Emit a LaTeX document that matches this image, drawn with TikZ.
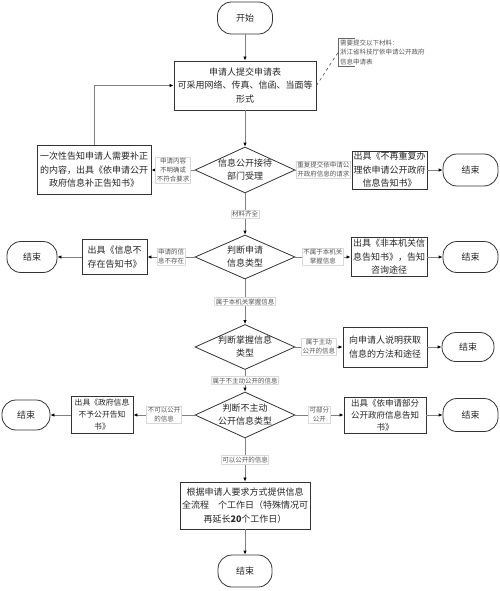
\documentclass[tikz,border=0pt]{standalone}
\usepackage{fontspec}
\setmainfont{Noto Sans CJK SC}
\usetikzlibrary{shapes.geometric,arrows.meta}
\definecolor{linec}{HTML}{808080}
\definecolor{boxc}{HTML}{333333}
\definecolor{lblc}{HTML}{555555}
\tikzset{
  box/.style={draw=boxc, line width=0.9pt, fill=white, inner sep=0pt, align=center, font=\fontsize{9}{13.5}\selectfont, text=black!85},
  term/.style={draw=boxc, line width=0.8pt, rounded corners=14pt, inner sep=0pt, minimum width=55pt, minimum height=32pt, font=\fontsize{9}{11}\selectfont, text=black!85},
  dia/.style={draw=boxc, line width=0.8pt, diamond, inner sep=0pt, minimum width=100pt, minimum height=46pt},
  dtxt/.style={align=center, inner sep=0pt, font=\fontsize{9}{13}\selectfont, text=black!85},
  lbl/.style={draw=black!15, fill=white, inner sep=1pt, align=center, font=\fontsize{6.5}{9}\selectfont, text=lblc},
  notet/.style={align=left, inner xsep=2pt, inner ysep=1.5pt, font=\fontsize{6.5}{9.5}\selectfont, text=lblc},
  conn/.style={draw=linec, line width=0.9pt, -{Latex[length=4pt,width=3.5pt,color=black]}},
}
\begin{document}
\begin{tikzpicture}[x=1pt,y=-1pt]
\useasboundingbox (0,0) rectangle (500,591);

% nodes
\node[term] (start) at (245,18) {开始};
\node[box, minimum width=142pt, minimum height=49pt] (main) at (245,85.5) {申请人提交申请表\\可采用网络、传真、信函、当面等\\形式};
\node[notet, anchor=west] (note) at (338,52.5) {需要提交以下材料：\\浙江省科技厅依申请公开政府\\信息申请表};

\node[dia] (d1) at (245,170) {};
\node[dtxt] (d1t) at (d1) {信息公开接待\\部门受理};
\node[box, minimum width=114pt, minimum height=49pt] (b1) at (94,170) {一次性告知申请人需要补正\\的内容，出具《依申请公开\\政府信息补正告知书》};
\node[box, minimum width=75pt, minimum height=38pt] (r1) at (389.5,170) {出具《不再重复办\\理依申请公开政府\\信息告知书》};
\node[term] (e1) at (470.5,170) {结束};

\node[dia, minimum height=44pt] (d2) at (245,257) {};
\node[dtxt] (d2t) at (d2) {判断申请\\信息类型};
\node[box, minimum width=65pt, minimum height=35pt] (l2) at (114.5,257) {出具《信息不\\存在告知书》};
\node[term, minimum width=50pt, minimum height=31pt] (le2) at (32,257) {结束};
\node[box, minimum width=76pt, minimum height=39pt] (r2) at (389,257) {出具《非本机关信\\息告知书》，告知\\咨询途径};
\node[term, minimum height=31pt] (e2) at (470.5,257) {结束};

\node[dia, minimum height=45pt] (d3) at (245,347) {};
\node[dtxt] (d3t) at (d3) {判断掌握信息\\类型};
\node[box, minimum width=84pt, minimum height=40pt] (r3) at (385,347) {向申请人说明获取\\信息的方法和途径};
\node[term, minimum width=52pt, minimum height=29pt] (e3) at (468,347) {结束};

\node[dia] (d4) at (245,415) {};
\node[dtxt] (d4t) at (d4) {判断不主动\\公开信息类型};
\node[box, minimum width=62pt, minimum height=37pt, font=\fontsize{7.8}{12}\selectfont] (l4) at (102,415) {出具《政府信息\\不予公开告知\\书》};
\node[term, minimum width=48pt, minimum height=30pt] (le4) at (26,415) {结束};
\node[box, minimum width=82pt, minimum height=36pt, font=\fontsize{8.5}{12}\selectfont] (r4) at (385,415) {出具《依申请部分\\公开政府信息告知\\书》};
\node[term, minimum height=33pt] (e4) at (470.5,415) {结束};

\node[box, minimum width=130pt, minimum height=47pt] (fin) at (245,505.5) {根据申请人要求方式提供信息\\全流程\hspace{9pt}个工作日（特殊情况可\\再延长\textbf{20}个工作日）};
\node[term, minimum width=54pt] (end) at (245,571) {结束};

% connectors
\draw[conn] (start.south) -- (main.north);
\draw[conn] (main.south) -- (d1.north);
\draw[conn] (b1.north) |- (main.west);
\draw[draw=black!70, dashed, line width=0.6pt] (main.east) -- (note.west);
\draw[draw=black!60, line width=0.6pt] ([xshift=17pt]note.north west) -- (note.north west) -- (note.south west) -- ([xshift=17pt]note.south west);

\draw[conn] (d1.west) -- node[lbl] (c1) {申请内容\\不明确或\\不符合要求} (b1.east);
\draw[conn] (d1.east) -- node[lbl] (c2) {重复提交依申请公\\开政府信息的请求} (r1.west);
\draw[conn] (r1.east) -- (e1.west);
\draw[conn] (d1.south) -- node[lbl] (c3) {材料齐全} (d2.north);

\draw[conn] (d2.west) -- node[lbl] (c4) {申请的信\\息不存在} (l2.east);
\draw[conn] (l2.west) -- (le2.east);
\draw[conn] (d2.east) -- node[lbl] (c5) {不属于本机关\\掌握信息} (r2.west);
\draw[conn] (r2.east) -- (e2.west);
\draw[conn] (d2.south) -- node[lbl] (c6) {属于本机关掌握信息} (d3.north);

\draw[conn] (d3.east) -- node[lbl] (c7) {属于主动\\公开的信息} (r3.west);
\draw[conn] (r3.east) -- (e3.west);
\draw[conn] (d3.south) -- node[lbl] (c8) {属于不主动公开的信息} (d4.north);

\draw[conn] (d4.west) -- node[lbl] (c9) {不可以公开\\的信息} (l4.east);
\draw[conn] (l4.west) -- (le4.east);
\draw[conn] (d4.east) -- node[lbl] (c10) {可部分\\公开} (r4.west);
\draw[conn] (r4.east) -- (e4.west);
\draw[conn] (d4.south) -- node[lbl] (c11) {可以公开的信息} (fin.north);
\draw[conn] (fin.south) -- (end.north);
\end{tikzpicture}
\end{document}
